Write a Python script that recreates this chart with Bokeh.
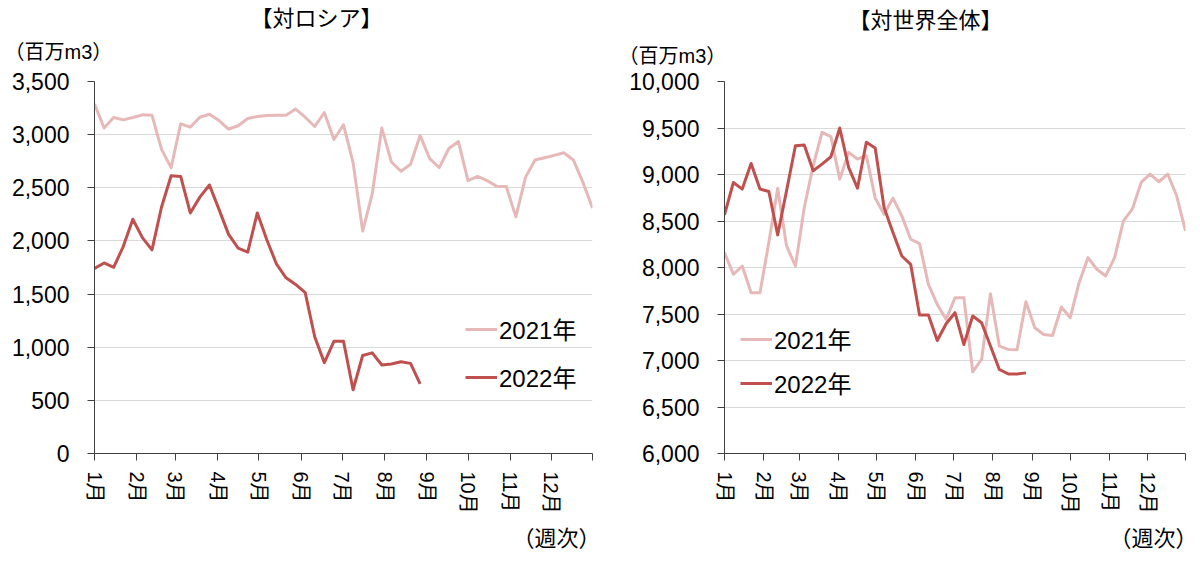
import math
from bokeh.plotting import figure
from bokeh.models import Range1d, FixedTicker, NumeralTickFormatter, Legend, LegendItem, Title
from bokeh.layouts import row
from bokeh.embed import file_html
from bokeh.resources import INLINE

# ---- data ----
month_labels = ["1月", "2月", "3月", "4月", "5月", "6月", "7月", "8月", "9月", "10月", "11月", "12月"]
month_start_day = [0, 31, 59, 90, 120, 151, 181, 212, 243, 273, 304, 334]
year_end_day = 364
days_per_week = 7

russia_2021 = [3288, 3062, 3161, 3139, 3161, 3186, 3183, 2861, 2690, 3102,
               3071, 3164, 3192, 3133, 3053, 3084, 3152, 3170, 3180, 3183,
               3183, 3241, 3164, 3077, 3207, 2954, 3093, 2737, 2093, 2443,
               3062, 2743, 2656, 2721, 2991, 2774, 2690, 2870, 2935, 2567,
               2607, 2567, 2514, 2511, 2226, 2598, 2762, 2783, 2805, 2830,
               2762, 2551, 2310]
russia_2022 = [1740, 1793, 1752, 1947, 2204, 2031, 1916, 2319, 2613, 2607,
               2263, 2412, 2526, 2297, 2062, 1932, 1895, 2263, 2009, 1783,
               1653, 1591, 1514, 1096, 855, 1056, 1056, 600, 922, 947,
               833, 842, 864, 848, 656]
world_2021 = [8160, 7927, 8016, 7729, 7729, 8268, 8853, 8232, 8016, 8645,
              9094, 9453, 9407, 8950, 9238, 9166, 9202, 8746, 8573, 8746,
              8555, 8304, 8257, 7819, 7603, 7442, 7675, 7675, 6878, 7011,
              7718, 7155, 7119, 7115, 7632, 7352, 7280, 7269, 7575, 7460,
              7837, 8106, 7981, 7909, 8106, 8501, 8627, 8915, 9004, 8922,
              9004, 8771, 8394]
world_2022 = [8566, 8914, 8843, 9119, 8843, 8818, 8351, 8825, 9310, 9317,
              9040, 9112, 9191, 9500, 9076, 8853, 9346, 9284, 8645, 8376,
              8124, 8034, 7488, 7488, 7215, 7395, 7514, 7172, 7478, 7406,
              7155, 6903, 6856, 6856, 6867]

russia_yticks = [0, 500, 1000, 1500, 2000, 2500, 3000, 3500]
world_yticks = [6000, 6500, 7000, 7500, 8000, 8500, 9000, 9500, 10000]
series_names = ["2021年", "2022年"]

# ---- styles ----
C21 = "#E6B9B8"
C22 = "#C0504D"
NUM_FONT = "Liberation Sans, Noto Sans CJK JP"
JP_FONT = "Noto Sans CJK JP"


def make_panel(title, s21, s22, yticks, width, borders, title_off, title_standoff,
               unit_off, unit_standoff, week_off, legend_loc, legend_spacing):
    bl, br, bt, bb = borders
    p = figure(width=width, height=559, output_backend="svg", toolbar_location=None,
               x_range=Range1d(0, year_end_day),
               y_range=Range1d(yticks[0], yticks[-1]),
               min_border_left=bl, min_border_right=br,
               min_border_top=bt, min_border_bottom=bb)
    p.outline_line_color = None
    p.background_fill_color = "white"
    p.border_fill_color = "white"

    x21 = [i * days_per_week for i in range(len(s21))]
    x22 = [i * days_per_week for i in range(len(s22))]
    r1 = p.line(x21, s21, line_color=C21, line_width=3, line_join="round")
    r2 = p.line(x22, s22, line_color=C22, line_width=3, line_join="round")

    # axes
    p.xgrid.visible = False
    p.ygrid.grid_line_color = "#D9D9D9"
    p.ygrid.grid_line_width = 1
    p.ygrid.ticker = FixedTicker(ticks=yticks)

    xa = p.xaxis[0]
    xa.ticker = FixedTicker(ticks=month_start_day + [year_end_day])
    overrides = {d: lab for d, lab in zip(month_start_day, month_labels)}
    overrides[year_end_day] = ""
    xa.major_label_overrides = overrides
    xa.major_label_orientation = -math.pi / 2
    xa.major_label_text_font = NUM_FONT
    xa.major_label_text_font_size = "20px"
    xa.major_label_text_color = "#000000"
    xa.major_label_standoff = 11
    xa.major_tick_out = 7
    xa.major_tick_in = 0
    xa.minor_tick_out = 0
    xa.minor_tick_in = 0
    xa.axis_line_color = "#404040"
    xa.major_tick_line_color = "#404040"

    ya = p.yaxis[0]
    ya.ticker = FixedTicker(ticks=yticks)
    ya.formatter = NumeralTickFormatter(format="0,0")
    ya.major_label_text_font = NUM_FONT
    ya.major_label_text_font_size = "23px"
    ya.major_label_text_color = "#000000"
    ya.major_label_standoff = 18
    ya.major_tick_out = 7
    ya.major_tick_in = 0
    ya.minor_tick_out = 0
    ya.minor_tick_in = 0
    ya.axis_line_color = "#404040"
    ya.major_tick_line_color = "#404040"

    # texts (titles outside the frame)
    p.add_layout(Title(text="（百万m3）", align="left", offset=unit_off,
                       text_font=NUM_FONT, text_font_size="20px", text_font_style="normal",
                       text_color="#000000", standoff=unit_standoff), "above")
    p.add_layout(Title(text=title, align="left", offset=title_off,
                       text_font=JP_FONT, text_font_size="22px", text_font_style="normal",
                       text_color="#000000", standoff=title_standoff), "above")
    p.add_layout(Title(text="（週次）", align="right", offset=week_off,
                       text_font=JP_FONT, text_font_size="22px", text_font_style="normal",
                       text_color="#000000", standoff=2), "below")

    legend = Legend(items=[LegendItem(label=series_names[0], renderers=[r1]),
                           LegendItem(label=series_names[1], renderers=[r2])],
                    location=legend_loc, orientation="vertical")
    legend.label_text_font = NUM_FONT
    legend.label_text_font_size = "24px"
    legend.label_text_color = "#000000"
    legend.glyph_width = 32
    legend.glyph_height = 24
    legend.label_height = 24
    legend.label_standoff = 2
    legend.spacing = legend_spacing
    legend.padding = 0
    legend.margin = 0
    legend.border_line_color = None
    legend.background_fill_alpha = 0
    p.add_layout(legend, "center")
    return p


left = make_panel("【対ロシア】", russia_2021, russia_2022, russia_yticks, 600,
                  (94, 8, 77, 104), 156, -22, -90, 37, -8, (371, 59), 13)
right = make_panel("【対世界全体】", world_2021, world_2022, world_yticks, 600,
                   (124, 15, 81, 106), 124, -10, -106, 29, -12, (16, 53), 9)

layout = row(left, right)
open("out.html", "w").write(file_html(layout, INLINE))
